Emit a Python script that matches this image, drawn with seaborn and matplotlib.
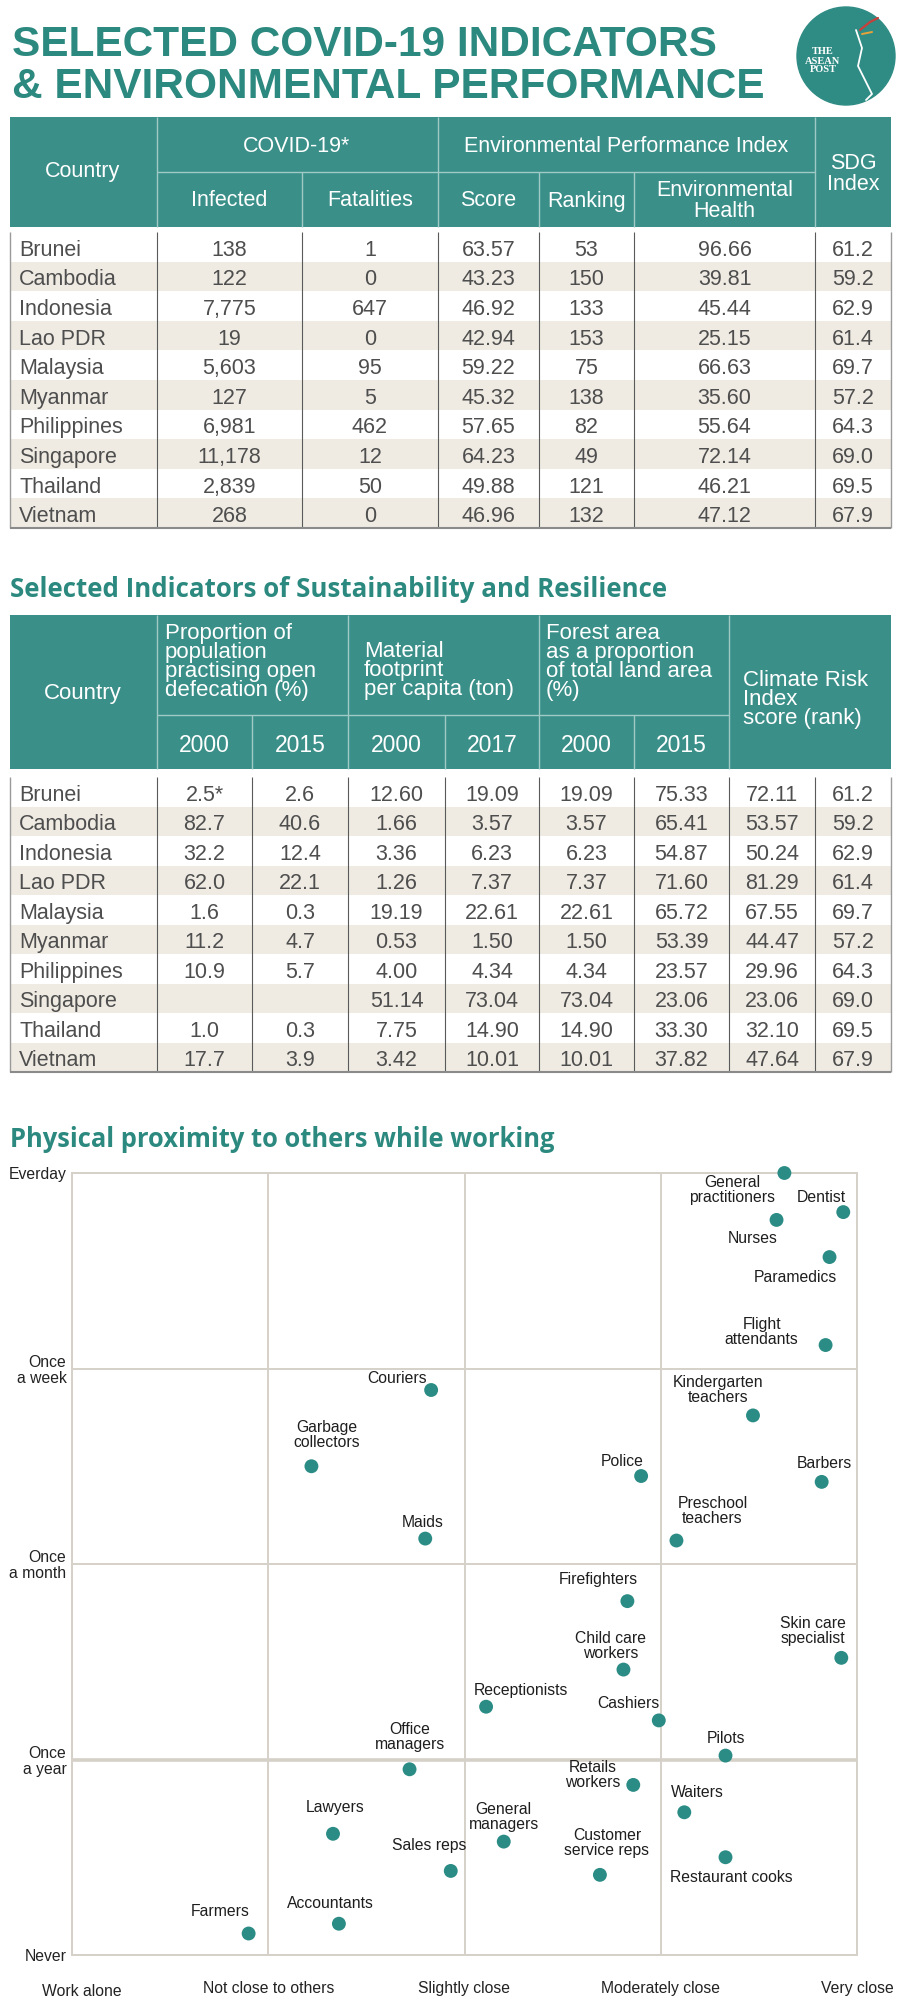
import matplotlib
matplotlib.use("Agg")
import matplotlib.pyplot as plt
import matplotlib.transforms as mtransforms
from matplotlib.patches import Rectangle, Circle
import seaborn as sns
import pandas as pd

# ---- table 1: covid + EPI ----
countries = ["Brunei", "Cambodia", "Indonesia", "Lao PDR", "Malaysia",
             "Myanmar", "Philippines", "Singapore", "Thailand", "Vietnam"]
infected = [138, 122, 7775, 19, 5603, 127, 6981, 11178, 2839, 268]
fatalities = [1, 0, 647, 0, 95, 5, 462, 12, 50, 0]
epi_score = [63.57, 43.23, 46.92, 42.94, 59.22, 45.32, 57.65, 64.23, 49.88, 46.96]
epi_rank = [53, 150, 133, 153, 75, 138, 82, 49, 121, 132]
env_health = [96.66, 39.81, 45.44, 25.15, 66.63, 35.60, 55.64, 72.14, 46.21, 47.12]
sdg_index = [61.2, 59.2, 62.9, 61.4, 69.7, 57.2, 64.3, 69.0, 69.5, 67.9]

# ---- table 2: sustainability ----
defecation_2000 = ["2.5*", "82.7", "32.2", "62.0", "1.6", "11.2", "10.9", "", "1.0", "17.7"]
defecation_2015 = ["2.6", "40.6", "12.4", "22.1", "0.3", "4.7", "5.7", "", "0.3", "3.9"]
material_2000 = [12.60, 1.66, 3.36, 1.26, 19.19, 0.53, 4.00, 51.14, 7.75, 3.42]
material_2017 = [19.09, 3.57, 6.23, 7.37, 22.61, 1.50, 4.34, 73.04, 14.90, 10.01]
forest_2000 = [19.09, 3.57, 6.23, 7.37, 22.61, 1.50, 4.34, 73.04, 14.90, 10.01]
forest_2015 = [75.33, 65.41, 54.87, 71.60, 65.72, 53.39, 23.57, 23.06, 33.30, 37.82]
climate_score = [72.11, 53.57, 50.24, 81.29, 67.55, 44.47, 29.96, 23.06, 32.10, 47.64]
climate_rank = [61.2, 59.2, 62.9, 61.4, 69.7, 57.2, 64.3, 69.0, 69.5, 67.9]

# ---- scatter: proximity ----
closeness_labels = ["Work alone", "Not close to others", "Slightly close",
                    "Moderately close", "Very close"]
frequency_labels = ["Never", "Once\na year", "Once\na month", "Once\na week", "Everday"]
jobs = ["General\npractitioners", "Dentist", "Nurses", "Paramedics", "Flight\nattendants",
        "Couriers", "Kindergarten\nteachers", "Garbage\ncollectors", "Police", "Barbers",
        "Maids", "Preschool\nteachers", "Firefighters", "Skin care\nspecialist",
        "Child care\nworkers", "Receptionists", "Cashiers", "Office\nmanagers", "Pilots",
        "Retails\nworkers", "Waiters", "Lawyers", "General\nmanagers", "Sales reps",
        "Customer\nservice reps", "Restaurant cooks", "Accountants", "Farmers"]
closeness = [3.63, 3.93, 3.59, 3.86, 3.84, 1.83, 3.47, 1.22, 2.90, 3.82, 1.80, 3.08,
             2.83, 3.92, 2.81, 2.11, 2.99, 1.72, 3.33, 2.86, 3.12, 1.33, 2.20, 1.93,
             2.69, 3.33, 1.36, 0.90]
frequency = [4.00, 3.80, 3.76, 3.57, 3.12, 2.89, 2.76, 2.50, 2.45, 2.42, 2.13, 2.12,
             1.81, 1.52, 1.46, 1.27, 1.20, 0.95, 1.02, 0.87, 0.73, 0.62, 0.58, 0.43,
             0.41, 0.50, 0.16, 0.11]

# label placement relative to each dot (pixels, x right / y up)
label_offsets = [(-52, -17), (-22, 15), (-24, -19), (-34, -20), (-64, 13), (-34, 12),
                 (-35, 25), (15, 31), (-19, 15), (3, 18), (-3, 16), (36, 30), (-29, 22),
                 (-28, 27), (-13, 24), (35, 16), (-30, 17), (0, 32), (0, 17), (-41, 10),
                 (13, 20), (2, 26), (0, 25), (-22, 25), (7, 32), (6, -20), (-8, 20),
                 (-28, 22)]

sns.set_style("white")
plt.rcParams["font.family"] = ["Liberation Sans", "DejaVu Sans"]

TEAL = "#3b8f89"
TITLE = "#2c897f"
DOT = "#2b8c85"
STRIPE = "#efebe3"
GRID = "#d6d1c8"
BODY = "#4e4e4e"
HDR_LINE = "#9fcac5"

fig = plt.figure(figsize=(9, 20.13), dpi=100)
bg = fig.add_axes([0, 0, 1, 1])
bg.set_xlim(0, 900)
bg.set_ylim(2013, 0)
bg.axis("off")

# main title + logo
bg.text(12, 56, "SELECTED COVID-19 INDICATORS", fontsize=30.5, fontweight="heavy",
        color=TITLE, va="baseline")
bg.text(12, 98, "& ENVIRONMENTAL PERFORMANCE", fontsize=30.5, fontweight="heavy",
        color=TITLE, va="baseline")
bg.add_patch(Circle((846, 56), 49, color="#2f8c84"))
bg.text(823, 61, "THE\nASEAN\nPOST", fontsize=7.5, fontweight="bold", color="white",
        ha="center", va="center", family="Liberation Serif", linespacing=1.0)
bg.plot([856, 862, 858, 866, 872, 866], [30, 48, 66, 82, 94, 100], color="white", lw=1.3)
bg.plot([860, 870, 878], [30, 22, 18], color="#c8403c", lw=1.6)
bg.plot([862, 872], [34, 32], color="#e8a23a", lw=1.4)


def hline(x0, x1, y, **kw):
    bg.plot([x0, x1], [y, y], solid_capstyle="butt", **kw)


def vline(x, y0, y1, **kw):
    bg.plot([x, x], [y0, y1], solid_capstyle="butt", **kw)


def draw_body(top, row_h, edges, columns, fs=15.5):
    left, right = edges[0], edges[-1]
    for i, name in enumerate(countries):
        y0 = top + i * row_h
        if i % 2:
            bg.add_patch(Rectangle((left, y0), right - left, row_h, fc=STRIPE, ec="none"))
        yc = y0 + row_h / 2 + 1
        bg.text(left + 9, yc, name, ha="left", va="center_baseline", fontsize=fs, color=BODY)
        for j, col in enumerate(columns):
            cx = (edges[j + 1] + edges[j + 2]) / 2
            bg.text(cx, yc, col[i], ha="center", va="center_baseline", fontsize=fs, color=BODY)
    bottom = top + len(countries) * row_h
    for x in edges[1:-1]:
        vline(x, top, bottom, color="#5a5a5a", lw=0.8)
    vline(left, top, bottom, color="#9a9a9a", lw=1)
    vline(right, top, bottom, color="#9a9a9a", lw=1)
    hline(left, right, bottom, color="#8a8a8a", lw=1.5)


# ---- table 1 ----
e1 = [10, 157, 302, 438, 539, 634, 815, 891]
bg.add_patch(Rectangle((10, 117), 881, 110, fc=TEAL, ec="none"))
for x in (157, 438, 815):
    vline(x, 117, 227, color=HDR_LINE, lw=1)
for x in (302, 539, 634):
    vline(x, 172, 227, color=HDR_LINE, lw=1)
hline(157, 815, 172, color=HDR_LINE, lw=1)
hfs = 15.5
bg.text(83, 172, "Country", color="white", fontsize=hfs, ha="center", va="center")
bg.text(297, 146, "COVID-19*", color="white", fontsize=hfs, ha="center", va="center")
bg.text(626, 146, "Environmental Performance Index", color="white", fontsize=hfs,
        ha="center", va="center")
bg.text(853, 174, "SDG\nIndex", color="white", fontsize=hfs, ha="center", va="center",
        linespacing=0.95)
for lab, a, b in [("Infected", 157, 302), ("Fatalities", 302, 438), ("Score", 438, 539),
                  ("Ranking", 539, 634), ("Environmental\nHealth", 634, 815)]:
    bg.text((a + b) / 2, 201, lab, color="white", fontsize=hfs, ha="center", va="center",
            linespacing=0.95)

draw_body(232, 29.6, e1, [
    [f"{v:,}" for v in infected],
    [str(v) for v in fatalities],
    [f"{v:.2f}" for v in epi_score],
    [str(v) for v in epi_rank],
    [f"{v:.2f}" for v in env_health],
    [f"{v:.1f}" for v in sdg_index],
])

# ---- table 2 ----
bg.text(10, 597, "Selected Indicators of Sustainability and Resilience", fontsize=18.6,
        fontweight="bold", color=TITLE, va="baseline", family=["Open Sans", "Liberation Sans"])
e2 = [10, 157, 252, 348, 445, 539, 634, 729, 815, 891]
bg.add_patch(Rectangle((10, 615), 881, 154, fc=TEAL, ec="none"))
for x in (157, 348, 539, 729):
    vline(x, 615, 769, color=HDR_LINE, lw=1)
for x in (252, 445, 634):
    vline(x, 715, 769, color=HDR_LINE, lw=1)
hline(157, 729, 715, color=HDR_LINE, lw=1)
h2 = 16
bg.text(83, 693, "Country", color="white", fontsize=h2, ha="center", va="center")
for lab, x, y in [("Proportion of\npopulation\npractising open\ndefecation (%)", 165, 623),
                  ("Material\nfootprint\nper capita (ton)", 364, 641),
                  ("Forest area\nas a proportion\nof total land area\n(%)", 546, 623),
                  ("Climate Risk\nIndex\nscore (rank)", 743, 670)]:
    bg.text(x, y, lab, color="white", fontsize=h2, ha="left", va="top", linespacing=0.88)
for lab, a, b in [("2000", 157, 252), ("2015", 252, 348), ("2000", 348, 445),
                  ("2017", 445, 539), ("2000", 539, 634), ("2015", 634, 729)]:
    bg.text((a + b) / 2, 745, lab, color="white", fontsize=16.5, ha="center", va="center")

draw_body(777, 29.5, e2, [
    defecation_2000,
    defecation_2015,
    [f"{v:.2f}" for v in material_2000],
    [f"{v:.2f}" for v in material_2017],
    [f"{v:.2f}" for v in forest_2000],
    [f"{v:.2f}" for v in forest_2015],
    [f"{v:.2f}" for v in climate_score],
    [f"{v:.1f}" for v in climate_rank],
])

# ---- scatter ----
bg.text(10, 1147, "Physical proximity to others while working", fontsize=18.4,
        fontweight="bold", color=TITLE, va="baseline", family=["Open Sans", "Liberation Sans"])

df = pd.DataFrame({"job": jobs, "closeness": closeness, "frequency": frequency})
ax = fig.add_axes([72 / 900, (2013 - 1955) / 2013, 785 / 900, 782 / 2013])
sns.scatterplot(data=df, x="closeness", y="frequency", color=DOT, s=100,
                edgecolor="none", ax=ax, clip_on=False, zorder=3)
for (job, x, y), (dx, dy) in zip(zip(jobs, closeness, frequency), label_offsets):
    ax.annotate(job, (x, y), xytext=(dx, dy), textcoords="offset pixels",
                ha="center", va="center", fontsize=11.3, color="#1e1e1e",
                linespacing=1.0, zorder=4)
ax.set_xlim(0, 4)
ax.set_ylim(0, 4)
ax.set_xticks(range(5))
ax.set_xticklabels(closeness_labels, fontsize=11.3, color="#222222")
ax.set_yticks(range(5))
ax.set_yticklabels(frequency_labels, fontsize=11.3, color="#222222",
                   multialignment="right", linespacing=1.05)
ax.tick_params(axis="x", length=0, pad=19)
ax.tick_params(axis="y", length=0, pad=4)
# "Work alone" sits a little right of the axis corner
first = ax.get_xticklabels()[0]
first.set_transform(first.get_transform()
                    + mtransforms.ScaledTranslation(0.1, -0.03, fig.dpi_scale_trans))
ax.grid(True, color=GRID, lw=1.4)
ax.axhline(1, color=GRID, lw=2.6, zorder=0.5)
ax.set_axisbelow(True)
for s in ax.spines.values():
    s.set_color(GRID)
    s.set_linewidth(1.4)
ax.set_xlabel("")
ax.set_ylabel("")

fig.savefig("out.png", dpi=100)
